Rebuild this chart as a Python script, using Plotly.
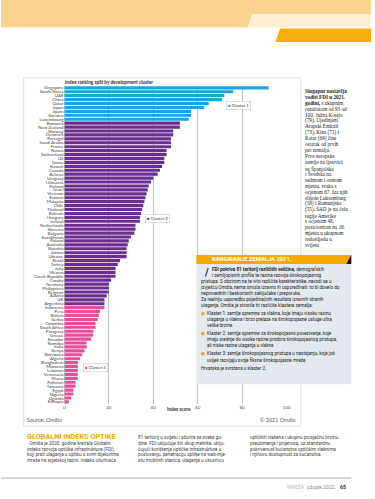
import plotly.graph_objects as go

# ---------------- data ----------------
cluster1_countries = ["Singapore", "South Korea", "UAE", "China", "Qatar", "Japan", "Spain", "Sweden", "Luxembourg"]
cluster1_scores = [92, 76, 72, 71, 65, 63, 57, 57, 56]

cluster2_countries = ["Romania", "New Zealand", "Norway", "Denmark", "Portugal", "Saudi Arabia", "France", "Russia",
                      "Switzerland", "US", "Oman", "Kuwait", "Canada", "Belarus", "Uruguay", "Lithuania", "Finland",
                      "Israel", "Vietnam", "Estonia", "Malaysia", "Chile", "Thailand", "Bahrain", "Hungary", "Ireland",
                      "Netherlands", "Slovenia", "Bulgaria", "Kazakhstan", "Poland", "Australia", "Slovakia", "Jordan",
                      "Ukraine", "Brazil", "Turkey", "Italy", "Mexico", "Czech Republic", "Croatia", "Germany",
                      "Philippines", "Belgium", "Austria", "UK", "Argentina"]
cluster2_scores = [52, 52, 49, 49, 48, 48, 48, 46, 46, 45, 45, 44, 43, 42, 40, 39, 38, 37.5, 37, 36.5,
                   36, 35.5, 35, 34.5, 34, 34, 32, 32, 31.5, 30, 29, 28.5, 28, 28, 28, 25, 24, 23, 23, 23,
                   21, 20, 20, 20, 19, 18, 18]

cluster3_countries = ["Indonesia", "Peru", "Bolivia", "Serbia", "Colombia", "South Africa", "Paraguay", "Greece",
                      "Ecuador", "Namibia", "India", "Kenya", "Botswana", "Algeria", "Bangladesh", "Morocco",
                      "Lebanon", "Venezuela", "Ghana", "Pakistan", "Tanzania", "Egypt", "Nigeria", "Uganda", "Ethiopia"]
cluster3_scores = [18, 16, 15.5, 15, 14, 14, 13, 13, 12, 10, 10, 9, 8, 7, 6, 6, 6, 6, 6, 5, 5, 4, 4, 3, 2]

cluster_names = ["Cluster 1", "Cluster 2", "Cluster 3"]
x_ticks = [0, 20, 40, 60, 80, 100]
x_tick_labels = ["0", "20", "40", "60", "80", "100"]

# ---------------- helpers ----------------
W, H = 375, 499


def px(x):
    return x / W


def py(y):
    return 1 - y / H


COL1, COL2, COL3 = "#1DA5DE", "#6B2D8F", "#EA4C9A"
ORANGE = "#F5A800"

fig = go.Figure()
for names, vals, col, nm in ((cluster1_countries, cluster1_scores, COL1, cluster_names[0]),
                             (cluster2_countries, cluster2_scores, COL2, cluster_names[1]),
                             (cluster3_countries, cluster3_scores, COL3, cluster_names[2])):
    fig.add_trace(go.Bar(y=names, x=vals, orientation="h", name=nm,
                         marker=dict(color=col, line=dict(width=0)), width=0.8, showlegend=False))

all_countries = cluster1_countries + cluster2_countries + cluster3_countries
n = len(all_countries)
row_top, row_bot = 88.0, 402.7
pitch = (row_bot - row_top) / (n - 1)

fig.update_layout(
    width=W, height=H, autosize=False,
    margin=dict(l=0, r=0, t=0, b=0),
    paper_bgcolor="white", plot_bgcolor="rgba(0,0,0,0)",
    barmode="overlay",
    font=dict(family="Lato", color="#333333"),
    xaxis=dict(domain=[px(64.3), px(290.0)], range=[0, 100.3], tickmode="array",
               tickvals=x_ticks, ticktext=x_tick_labels, showgrid=True, gridcolor="#C4C4C4",
               gridwidth=0.8, zeroline=True, zerolinecolor="#C4C4C4", zerolinewidth=0.8,
               showline=False, ticks="", tickfont=dict(size=4.6, color="#595959"), fixedrange=True),
    yaxis=dict(domain=[py(row_bot + pitch / 2), py(row_top - pitch / 2)], type="category",
               categoryorder="array", categoryarray=all_countries, autorange="reversed",
               tickmode="array", tickvals=all_countries, ticktext=all_countries,
               showgrid=False, zeroline=False, showline=False, ticks="",
               tickfont=dict(size=4.4, color="#3C3C3C"), fixedrange=True),
)

shapes = []


def path(points):
    s = "M " + " L ".join(f"{px(x):.5f},{py(y):.5f}" for x, y in points) + " Z"
    return s


# top decorative banner
shapes.append(dict(type="path", xref="paper", yref="paper", layer="below", line=dict(width=0),
                   fillcolor="#FAD38E",
                   path=path([(0, 0), (375, 0), (375, 14), (255, 14), (250, 27.5), (0, 27.5)])))
shapes.append(dict(type="path", xref="paper", yref="paper", layer="below", line=dict(width=0),
                   fillcolor="#FDEFD6",
                   path=path([(255, 14), (375, 14), (375, 27.5), (250, 27.5)])))
shapes.append(dict(type="path", xref="paper", yref="paper", layer="below", line=dict(width=0),
                   fillcolor="#F7AE0C",
                   path=path([(283, 28.5), (375, 28.5), (375, 42), (278, 42)])))
# chart frame
shapes.append(dict(type="rect", xref="paper", yref="paper", layer="below",
                   x0=px(23), x1=px(304), y0=py(427), y1=py(78),
                   line=dict(color="#D6D6D6", width=0.8), fillcolor="white"))
# orange heading band + triangle
shapes.append(dict(type="rect", xref="paper", yref="paper", layer="above",
                   x0=px(198), x1=px(355), y0=py(264.5), y1=py(255.5),
                   line=dict(width=0), fillcolor=ORANGE))
shapes.append(dict(type="path", xref="paper", yref="paper", layer="above", line=dict(width=0),
                   fillcolor="#111111", path=path([(350, 264.5), (355, 255.5), (355, 264.5)])))
# info box
shapes.append(dict(type="rect", xref="paper", yref="paper", layer="above",
                   x0=px(198), x1=px(355), y0=py(385), y1=py(264.5),
                   line=dict(width=0), fillcolor="#E3E9EE"))
# footer rule
shapes.append(dict(type="line", xref="paper", yref="paper", layer="above",
                   x0=px(0), x1=px(355), y0=py(479), y1=py(479),
                   line=dict(color="#BDBDBD", width=1.2)))
fig.update_layout(shapes=shapes)

ann = []


def text(x, y, s, size=5, color="#333333", family="Lato", anchor="left", **kw):
    d = dict(x=px(x), y=py(y), xref="paper", yref="paper", text=s, showarrow=False,
             xanchor=anchor, yanchor="middle", font=dict(size=size, color=color, family=family))
    d.update(kw)
    ann.append(d)


# chart texts
text(63, 82, "<b>Index ranking split by development cluster</b>", 4.7, "#2B2B2B")
text(166, 410, "<b>Index score</b>", 4.6, "#2B2B2B")
text(24, 421, "Source: Omdia", 5.4, "#595959")
text(301, 421, "© 2021 Omdia", 5.4, "#595959", anchor="right")

# cluster legends
legend_pos = [(228, 106), (146, 219), (83, 368.5)]
for (lx, ly), nm, col in zip(legend_pos, cluster_names, (COL1, COL2, COL3)):
    text(lx, ly, f"<span style='color:{col}'>■</span> {nm}", 4.3, "#333333",
         bordercolor="#C8C8C8", borderwidth=0.6, borderpad=1.4, bgcolor="white")

# right column
right_lines = [
    "<b>Singapur nastavlja</b>", "<b>voditi FDI u 2021.</b>", "<b>godini,</b> s ukupnim",
    "rezultatom od 93 od", "100. Južna Koreja", "(79), Ujedinjeni", "Arapski Emirati",
    "(73), Kina (71) i", "Katar (69) čine", "ostatak od prvih", "pet zemalja.",
    "Prve europske", "zemlje na ljestvici", "su Španjolska", "i Švedska na",
    "sedmom i osmom", "mjestu, svaka s", "ocjenom 67. Iza njih", "slijede Luksemburg",
    "(58) i Rumunjska", "(55). SAD je na čelu", "regije Amerike", "s ocjenom 48,",
    "pozicioniran na 18.", "mjestu u ukupnom", "redoslijedu u", "svijetu",
]
for i, s in enumerate(right_lines):
    text(306, 91 + i * 5.95, s, 5.2, "#222222", "Liberation Serif")

# orange heading
text(212, 260, "<b>RANGIRANJE ZEMALJA 2021.</b>", 5.8, "white", "Roboto")

# info box text
text(204, 272.6, "<b>/</b>", 10, "#222222", "Roboto")
info_lines = [
    (212, 270, "<b>FDI pokriva 81 teritorij različitih veličina,</b> demografskih"),
    (212, 275.8, "i zemljopisnih profila te razina razvoja širokopojasnog"),
    (201, 281.8, "pristupa. S obzirom na te vrlo različite karakteristike, navodi se u"),
    (201, 287.8, "izvješću Omdia, nema smisla izravno ih uspoređivati: to bi dovelo do"),
    (201, 293.7, "neprovednih i beskorisnih zaključaka i preporuka."),
    (201, 299.7, "Za realniju usporedbu pojedinačnih rezultata izravnih stranih"),
    (201, 305.7, "ulaganja, Omdia je stvorila tri različite klastera zemalja:"),
    (207, 314.3, "Klaster 1: zemlje spremne za vlakna, koje imaju visoku razinu"),
    (207, 320.1, "ulaganja u vlakna i brzo prelaze na širokopojasne usluge ultra"),
    (207, 325.9, "velike brzine"),
    (207, 334.2, "Klaster 2: zemlje spremne za širokopojasno povezivanje, koje"),
    (207, 340.0, "imaju srednje do visoke razine prodora širokopojasnog pristupa,"),
    (207, 345.8, "ali niske razine ulaganja u vlakna"),
    (207, 354.6, "Klaster 3: zemlje širokopojasnog pristupa u nastajanju, koje još"),
    (207, 360.4, "uvijek razvijaju svoje fiksne širokopojasne mreže"),
    (201, 369.5, "Hrvatska je svrstana u klaster 2."),
]
for x, y, s in info_lines:
    text(x, y, s, 4.6, "#222222", "Roboto")
for y in (314.3, 334.2, 354.6):
    text(200.5, y, "●", 4.6, ORANGE, "DejaVu Sans")

# bottom article
text(24, 437.5, "<b>GLOBALNI INDEKS OPTIKE</b>", 7.3, ORANGE, "Roboto")
col1 = ["  Omdia je 2020. godine kreirala Globalni", "indeks razvoja optičke infrastrukture (FDI),",
        "koji prati ulaganja u optiku u svim dijelovima", "mreže na svjetskoj razini. Indeks obuhvaća"]
col2 = ["81 teritorij u svijetu i ažurira se svake go-", "dine. FDI uključuje širi skup metrika, uklju-",
        "čujući korištenje optičke infrastrukture u", "poslovanju, penetraciju optike na web-mje-",
        "stu mobilnih stanica, ulaganja u okosnicu"]
col3 = ["optičkih vlakana i ukupnu prosječnu brzinu", "preuzimanja i prijenosa, uz standardnu",
        "pokrivenost kućanstva optičkim vlaknima", "i njihovu dostupnost za kućanstva."]
for i, s in enumerate(col1):
    text(24, 444.3 + i * 5.8, s, 4.7, "#444444", "Roboto")
for i, s in enumerate(col2):
    text(137, 438.5 + i * 5.8, s, 4.7, "#444444", "Roboto")
for i, s in enumerate(col3):
    text(250, 438.5 + i * 5.8, s, 4.7, "#444444", "Roboto")

# footer
text(352, 487, "<span style='color:#BBBBBB'>MREŽA</span>  <span style='color:#8A8A8A'>ožujak 2022.</span>   <b>65</b>",
     5.2, "#333333", "Roboto", anchor="right")

fig.update_layout(annotations=ann)

fig.write_html("out.html", config={"displayModeBar": False},
               post_script="document.body.style.margin='0';document.body.style.overflow='hidden';")
